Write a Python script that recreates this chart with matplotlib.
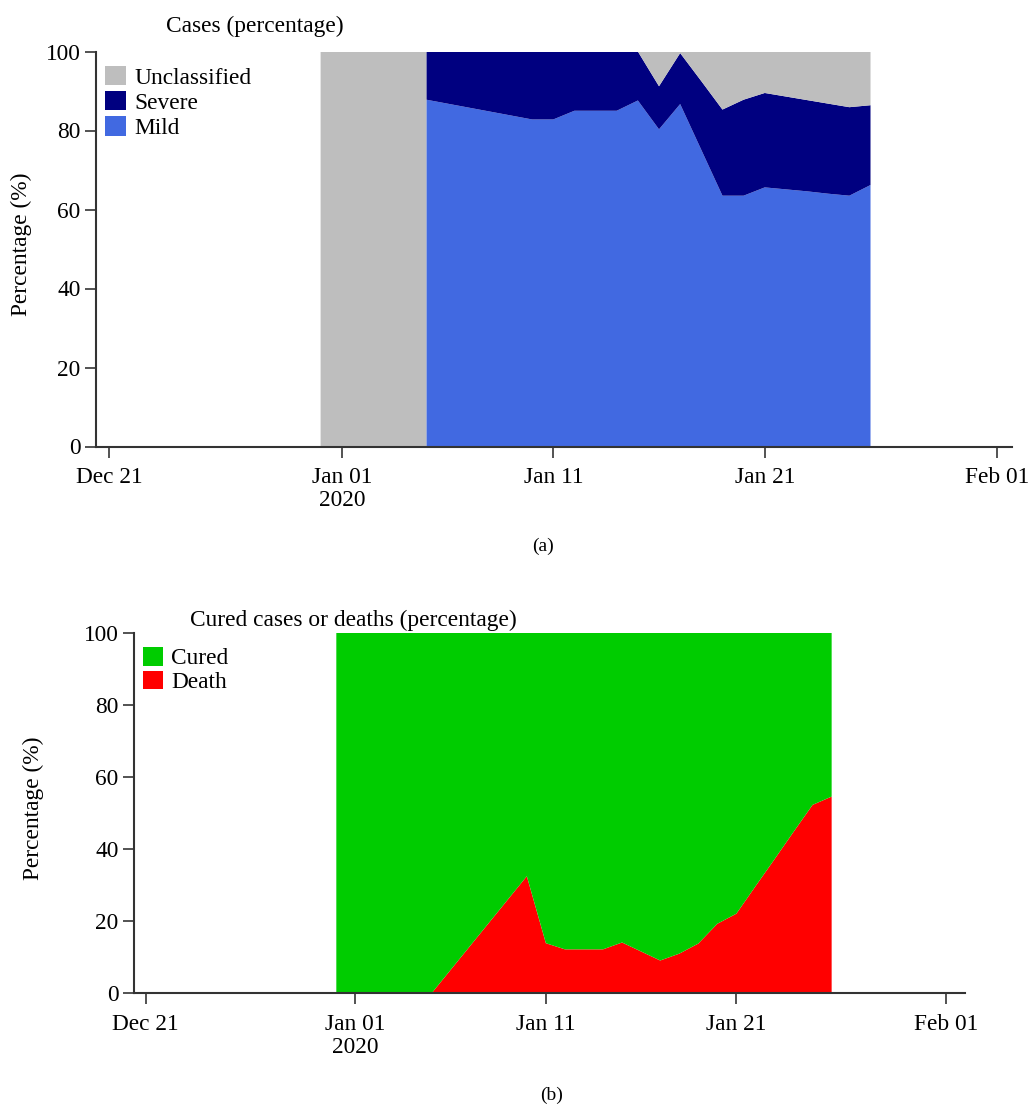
import matplotlib
matplotlib.use("Agg")
import matplotlib.pyplot as plt
import matplotlib.dates as mdates
import pandas as pd

plt.rcParams['font.family'] = ['Liberation Serif', 'DejaVu Serif']
plt.rcParams['font.size'] = 16.8

# (a) cases: only unclassified reports before Jan 05
pre_dates = ["2019-12-31", "2020-01-01", "2020-01-02", "2020-01-03", "2020-01-04", "2020-01-05"]
pre_unclassified = [100, 100, 100, 100, 100, 100]
case_dates = list(pd.date_range("2020-01-05", "2020-01-26").strftime("%Y-%m-%d"))
mild = [87.8, 86.8, 85.8, 84.8, 83.8, 82.8, 82.8, 85.0, 85.0, 85.0, 87.6,
        80.3, 86.7, 75.1, 63.5, 63.5, 65.6, 65.1, 64.6, 64.0, 63.5, 66.2]
severe = [12.2, 13.2, 14.2, 15.2, 16.2, 17.2, 17.2, 15.0, 15.0, 15.0, 12.4,
          10.9, 12.9, 17.4, 21.8, 24.3, 23.9, 23.5, 23.1, 22.8, 22.4, 20.2]
unclassified = [0, 0, 0, 0, 0, 0, 0, 0, 0, 0, 0,
                8.8, 0.4, 7.5, 14.7, 12.2, 10.5, 11.4, 12.3, 13.2, 14.1, 13.6]

# (b) outcomes
outcome_dates = list(pd.date_range("2019-12-31", "2020-01-26").strftime("%Y-%m-%d"))
death = [0, 0, 0, 0, 0, 0, 6.5, 13.0, 19.5, 26.0, 32.5, 13.9, 12.2, 12.2, 12.2,
         14.1, 11.6, 9.1, 11.0, 13.8, 19.3, 22.1, 29.7, 37.2, 44.8, 52.3, 54.6]
cured = [100 - d for d in death]

tick_dates = ["2019-12-21", "2020-01-01", "2020-01-11", "2020-01-21", "2020-02-01"]
tick_labels = ["Dec 21", "Jan 01\n2020", "Jan 11", "Jan 21", "Feb 01"]

W, H = 1032, 1104
fig = plt.figure(figsize=(W / 100, H / 100), dpi=100)


def px_axes(left, top, right, bottom):
    return fig.add_axes([left / W, 1 - bottom / H, (right - left) / W, (bottom - top) / H])


def to_num(ds):
    return mdates.date2num(pd.to_datetime(ds))


def style(ax, right_days):
    jan1 = to_num(["2020-01-01"])[0]
    ax.set_xlim(jan1 - 11.62, jan1 + right_days)
    ax.set_ylim(0, 100)
    ax.set_yticks([0, 20, 40, 60, 80, 100])
    ax.set_xticks(to_num(tick_dates))
    ax.set_xticklabels(tick_labels, linespacing=1.1)
    for s in ['top', 'right']:
        ax.spines[s].set_visible(False)
    for s in ['left', 'bottom']:
        ax.spines[s].set_color('#333333')
        ax.spines[s].set_linewidth(1.5)
    ax.tick_params(direction='out', length=8, width=1.3, color='#444444')
    ax.tick_params(axis='x', pad=7)
    ax.tick_params(axis='y', pad=3)


ax1 = px_axes(96, 51.5, 1012, 446.5)
x1 = to_num(pre_dates + case_dates)
n_pre = len(pre_dates)
ax1.stackplot(x1,
              [0] * n_pre + mild,
              [0] * n_pre + severe,
              pre_unclassified + unclassified,
              colors=['#4169e1', '#000080', '#bebebe'],
              labels=['Mild', 'Severe', 'Unclassified'], linewidth=0)
style(ax1, 31.69)
h, l = ax1.get_legend_handles_labels()
ax1.legend(h[::-1], l[::-1], loc='upper left', bbox_to_anchor=(105 / W, 1 - 66 / H),
           bbox_transform=fig.transFigure, frameon=False, borderpad=0, borderaxespad=0,
           handlelength=0.9, handleheight=0.9, handletextpad=0.35, labelspacing=0.1)
fig.text(166 / W, 1 - 32 / H, "Cases (percentage)", ha='left', va='baseline')
fig.text(21 / W, 1 - 244 / H, "Percentage (%)", rotation=90, ha='center', va='center')
fig.text(543 / W, 1 - 546 / H, "(a)", ha='center', va='center', fontsize=14)

ax2 = px_axes(134, 633, 965, 993.3)
x2 = to_num(outcome_dates)
ax2.stackplot(x2, death, cured, colors=['#ff0000', '#00cc00'],
              labels=['Death', 'Cured'], linewidth=0)
style(ax2, 32.0)
h, l = ax2.get_legend_handles_labels()
ax2.legend(h[::-1], l[::-1], loc='upper left', bbox_to_anchor=(143 / W, 1 - 647 / H),
           bbox_transform=fig.transFigure, frameon=False, borderpad=0, borderaxespad=0,
           handlelength=0.85, handleheight=0.85, handletextpad=0.35, labelspacing=0.05)
fig.text(190 / W, 1 - 626 / H, "Cured cases or deaths (percentage)", ha='left', va='baseline')
fig.text(33 / W, 1 - 808 / H, "Percentage (%)", rotation=90, ha='center', va='center')
fig.text(552 / W, 1 - 1095 / H, "(b)", ha='center', va='center', fontsize=14)

fig.savefig("out.png", dpi=100)
